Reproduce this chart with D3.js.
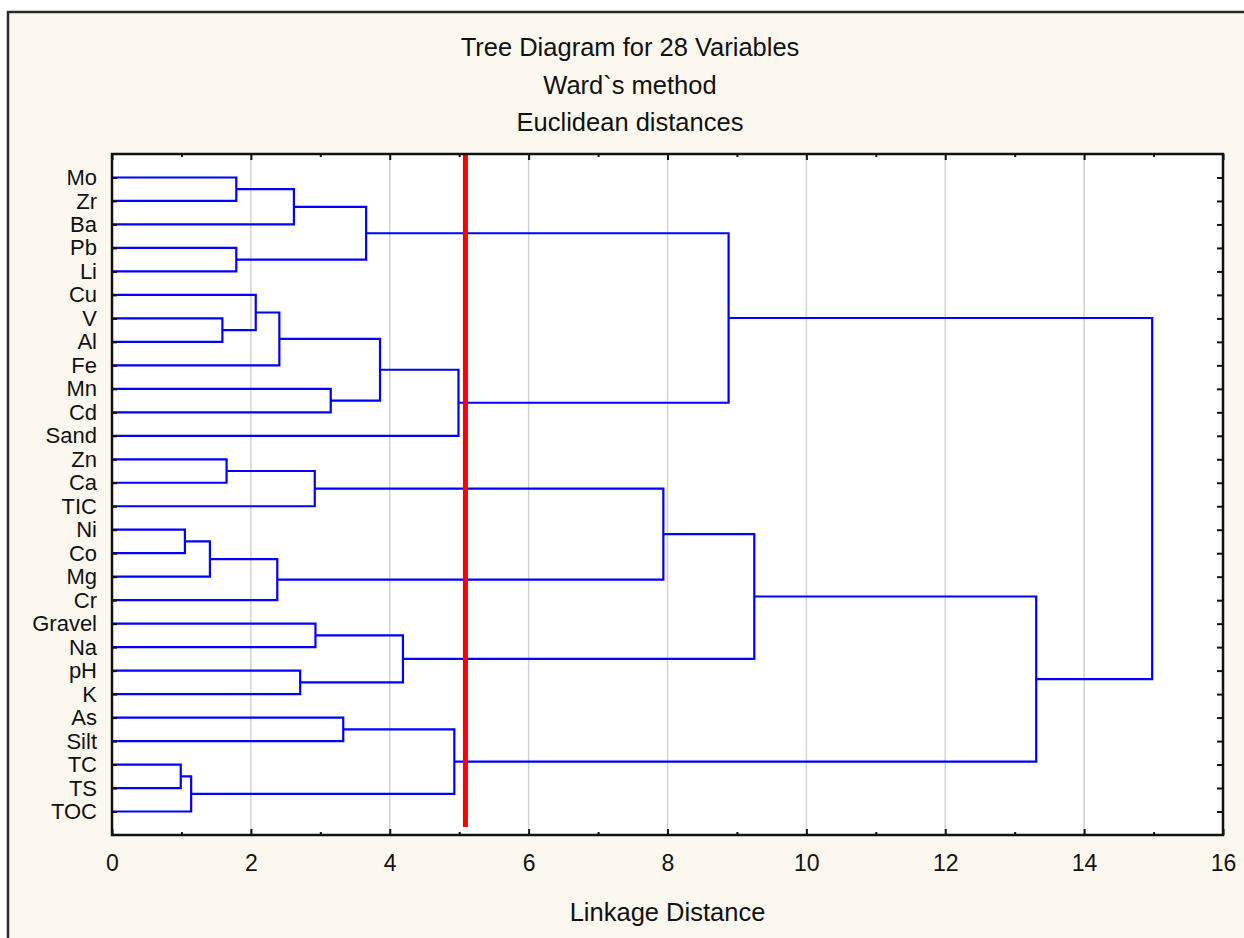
<!DOCTYPE html>
<html>
<head>
<meta charset="utf-8">
<script src="https://cdn.jsdelivr.net/npm/d3@7"></script>
<style>
  body { margin: 0; background: #ffffff; }
  text { font-family: "Liberation Sans", Arial, sans-serif; fill: #111; }
  .axis text { font-size: 23px; }
  .axis.yLeft text { font-size: 22px; }
  .axis .domain { stroke: none; }
  .axis line { stroke: #111; stroke-width: 2; }
</style>
</head>
<body>
<div id="chart"></div>
<script>
//Leaves, top to bottom
var leaves = ["Mo","Zr","Ba","Pb","Li","Cu","V","Al","Fe","Mn","Cd","Sand","Zn","Ca","TIC",
              "Ni","Co","Mg","Cr","Gravel","Na","pH","K","As","Silt","TC","TS","TOC"];

//Joins: [left, right, linkage distance]; "c" + index refers to an earlier join
var joinA = ["Mo","c0","Pb","c1","V","Cu","c5","Mn","c6","c8","c3","Zn","c11","Ni","c13","c14",
             "c12","Gravel","pH","c17","c16","As","TC","c22","c21","c20","c10"];
var joinB = ["Zr","Ba","Li","c2","Al","c4","Fe","Cd","c7","Sand","c9","Ca","TIC","Co","Mg","Cr",
             "c15","Na","K","c18","c19","Silt","TS","TOC","c23","c24","c25"];
var joinDist = [1.79,2.62,1.79,3.66,1.59,2.07,2.41,3.15,3.86,4.99,8.88,1.65,2.92,1.05,1.41,2.38,
                7.94,2.93,2.71,4.19,9.25,3.33,0.99,1.14,4.93,13.31,14.98];

var cutDist = 5.09;
var titles = ["Tree Diagram for 28 Variables", "Ward`s method", "Euclidean distances"];
var xLabel = "Linkage Distance";

//Layout
var W = 1244, H = 938;
var plot = { left: 112, top: 154, right: 1223, bottom: 835 };

var svg = d3.select("#chart")
            .append("svg")
             .attr("width", W)
             .attr("height", H);

//Outer frame
svg.append("rect")
    .attr("x", 8).attr("y", 12)
    .attr("width", 1244).attr("height", 960)
    .attr("fill", "#fcf8ef")
    .attr("stroke", "#2a2a2a")
    .attr("stroke-width", 2.5);

//Scales
var xScale = d3.scaleLinear()
               .domain([0, 16])
               .range([plot.left, plot.right]);
var yScale = d3.scalePoint()
               .domain(leaves)
               .range([plot.top, plot.bottom])
               .padding(1);

//Plot background
svg.append("rect")
    .attr("x", plot.left).attr("y", plot.top)
    .attr("width", plot.right - plot.left)
    .attr("height", plot.bottom - plot.top)
    .attr("fill", "#ffffff");

//Grid
svg.selectAll(".grid")
    .data(d3.range(2, 16, 2))
    .enter().append("line")
     .attr("class", "grid")
     .attr("x1", function(d) { return xScale(d); })
     .attr("x2", function(d) { return xScale(d); })
     .attr("y1", plot.top)
     .attr("y2", plot.bottom)
     .attr("stroke", "#d2d2d2")
     .attr("stroke-width", 1.5);

//Build the tree positions
var pos = {};
leaves.forEach(function(l) { pos[l] = { x: xScale(0), y: yScale(l) }; });
var links = [];
joinDist.forEach(function(h, i) {
    var a = pos[joinA[i]], b = pos[joinB[i]];
    var node = { x: xScale(h), y: (a.y + b.y) / 2 };
    pos["c" + i] = node;
    links.push({ a: a, b: b, node: node });
});

svg.selectAll(".link")
    .data(links)
    .enter().append("path")
     .attr("class", "link")
     .attr("d", function(d) {
         return "M" + d.a.x + "," + d.a.y + "H" + d.node.x + "V" + d.b.y + "H" + d.b.x;
     })
     .attr("fill", "none")
     .attr("stroke", "#0000ff")
     .attr("stroke-width", 2.2);

//Cut line
svg.append("line")
    .attr("x1", xScale(cutDist)).attr("x2", xScale(cutDist))
    .attr("y1", plot.top).attr("y2", plot.bottom - 8)
    .attr("stroke", "#ff0000")
    .attr("stroke-width", 5);

//Axes
var xTicks = d3.range(0, 17);
var xAxisBottom = d3.axisBottom(xScale)
                    .tickValues(xTicks)
                    .tickFormat(function(d) { return d % 2 === 0 ? d : ""; })
                    .tickSize(-6)
                    .tickPadding(20);
var xAxisTop = d3.axisTop(xScale)
                 .tickValues(xTicks)
                 .tickFormat("")
                 .tickSize(-6);
var yAxisLeft = d3.axisLeft(yScale)
                  .tickSize(-5)
                  .tickPadding(15);
var yAxisRight = d3.axisRight(yScale)
                   .tickFormat("")
                   .tickSize(-6);

var gBottom = svg.append("g")
    .attr("class", "axis")
    .attr("transform", "translate(0," + plot.bottom + ")")
    .call(xAxisBottom);
gBottom.selectAll(".tick line")
    .attr("y2", function(d) { return d % 2 === 0 ? -6 : -3; });

var gTop = svg.append("g")
    .attr("class", "axis")
    .attr("transform", "translate(0," + plot.top + ")")
    .call(xAxisTop);
gTop.selectAll(".tick line")
    .attr("y2", function(d) { return d % 2 === 0 ? 6 : 3; });

svg.append("g")
    .attr("class", "axis yLeft")
    .attr("transform", "translate(" + plot.left + ",0)")
    .call(yAxisLeft);
svg.append("g")
    .attr("class", "axis")
    .attr("transform", "translate(" + plot.right + ",0)")
    .call(yAxisRight);

//Plot border
svg.append("rect")
    .attr("x", plot.left).attr("y", plot.top)
    .attr("width", plot.right - plot.left)
    .attr("height", plot.bottom - plot.top)
    .attr("fill", "none")
    .attr("stroke", "#111")
    .attr("stroke-width", 2.5);

//Titles
var titleY = [56, 94, 131];
svg.selectAll(".title")
    .data(titles)
    .enter().append("text")
     .attr("class", "title")
     .attr("x", 630)
     .attr("y", function(d, i) { return titleY[i]; })
     .attr("text-anchor", "middle")
     .attr("font-size", "25.5px")
     .text(function(d) { return d; });

//Axis title
svg.append("text")
    .attr("x", (plot.left + plot.right) / 2)
    .attr("y", 921)
    .attr("text-anchor", "middle")
    .attr("font-size", "25.5px")
    .text(xLabel);
</script>
</body>
</html>
